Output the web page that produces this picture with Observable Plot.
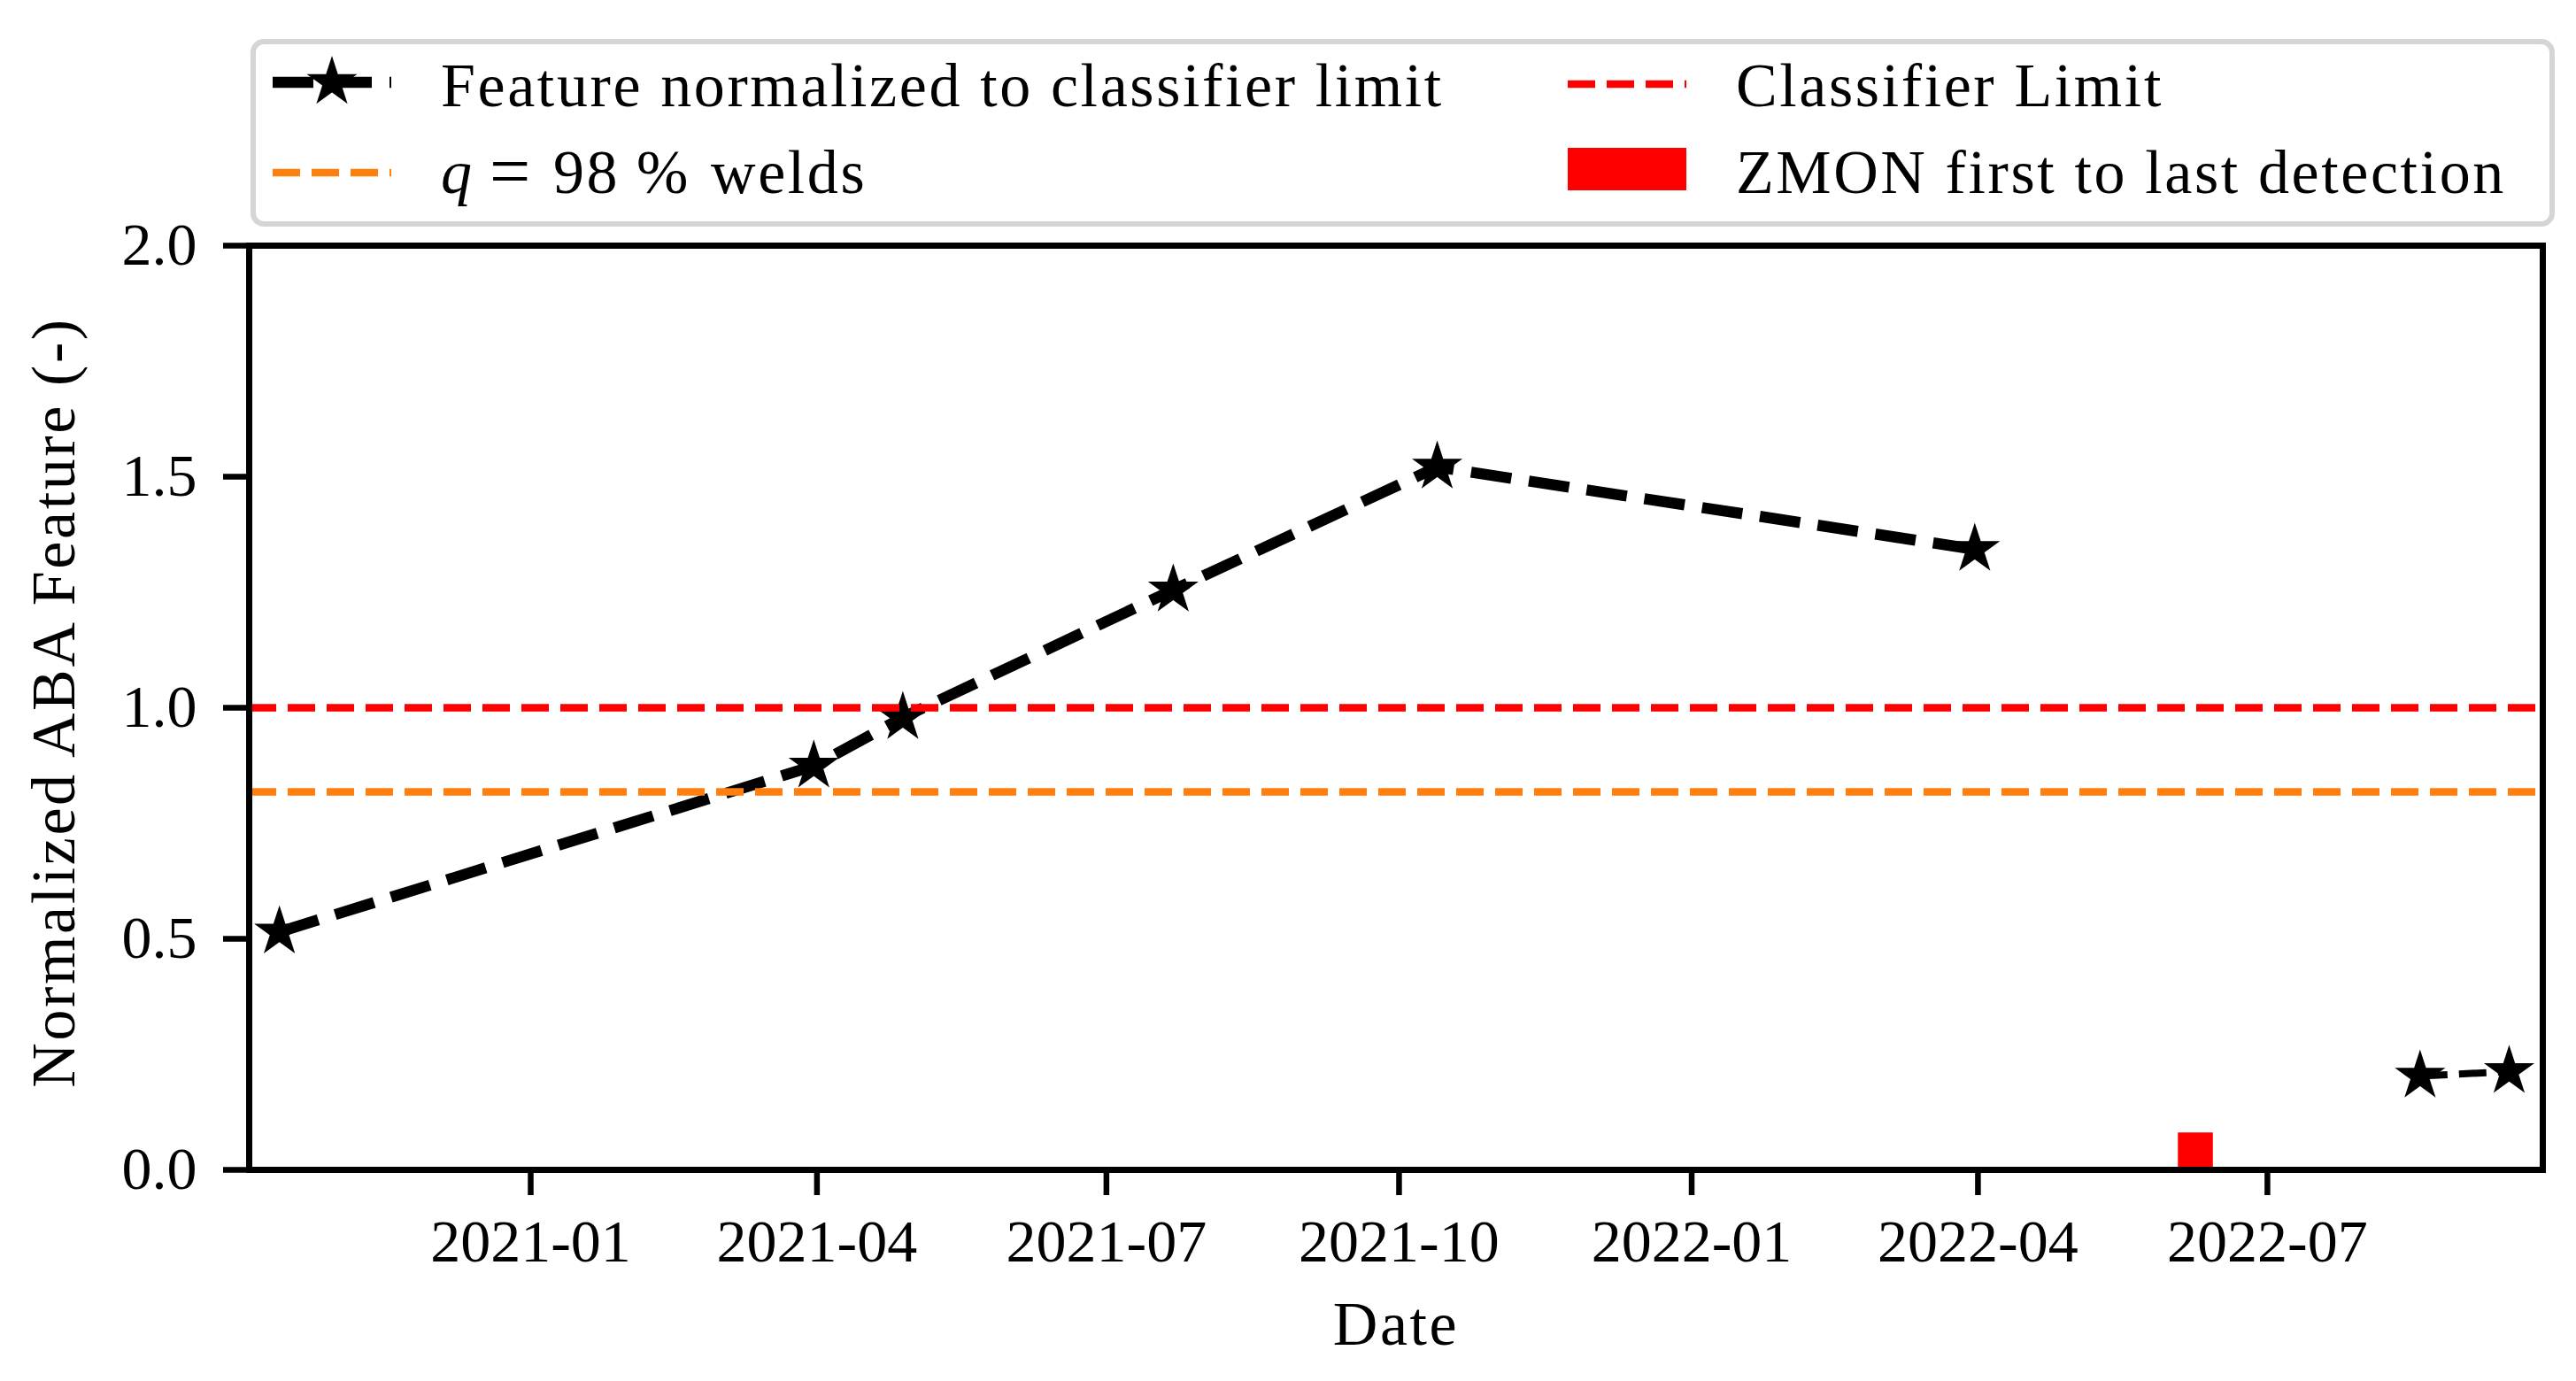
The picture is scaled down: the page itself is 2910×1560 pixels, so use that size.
<!DOCTYPE html>
<html><head><meta charset="utf-8">
<script src="https://cdn.jsdelivr.net/npm/d3@7"></script>
<script src="https://cdn.jsdelivr.net/npm/@observablehq/plot@0.6"></script>
<style>
html,body{margin:0;padding:0;background:#fff;width:2910px;height:1560px;overflow:hidden;}
#chart svg{display:block;}
</style></head><body>
<div id="chart"></div>
<script>
// ---- data ----
const dates = ["2020-10-14","2021-03-31","2021-04-28","2021-07-22","2021-10-13","2022-03-31","2022-08-18","2022-09-15"];
const values = [0.515, 0.874, 0.979, 1.255, 1.521, 1.343, 0.203, 0.213];
const segments = [1, 1, 1, 1, 1, 1, 2, 2];
const classifierLimit = 1.0;
const q98 = 0.818;
const zmonStart = "2022-06-03";
const zmonEnd = "2022-06-14";
const zmonHeight = 0.08;
const xTickLabels = ["2021-01","2021-04","2021-07","2021-10","2022-01","2022-04","2022-07"];
const yTicks = [0, 0.5, 1, 1.5, 2];
const xDomain = ["2020-10-04T12:00Z", "2022-09-25T14:00Z"];
const legendLabels = ["Feature normalized to classifier limit", "Classifier Limit", "q = 98 % welds", "ZMON first to last detection"];

const FONT = "'Liberation Serif', 'DejaVu Serif', serif";
const FS = 68;      // tick labels
const TFS = 70;     // legend and axis titles
const LS = "2.6px"; // letter spacing to mimic Computer Modern width
const starR = 16;

const data = dates.map((d, i) => ({date: new Date(d + "T00:00Z"), value: values[i], seg: segments[i]}));
const zmon = [{start: new Date(zmonStart + "T00:00Z"), end: new Date(zmonEnd + "T00:00Z"), h: zmonHeight}];

// ---- legend (above the plot) ----
const leg = d3.create("svg").attr("width", 2910).attr("height", 260)
  .style("display", "block").style("font-family", FONT).style("font-size", TFS + "px")
  .style("letter-spacing", LS);
leg.append("rect").attr("x", 286).attr("y", 47).attr("width", 2597).attr("height", 206)
  .attr("rx", 12).attr("fill", "white").attr("stroke", "#d5d5d5").attr("stroke-width", 6);
// row 1 left: black dashed with star
leg.append("line").attr("x1", 308).attr("x2", 442).attr("y1", 93).attr("y2", 93)
  .attr("stroke", "black").attr("stroke-width", 12.5).attr("stroke-dasharray", "46,20");
leg.append("path").attr("d", d3.symbol(d3.symbolStar, Math.PI * starR * starR)())
  .attr("transform", "translate(375,93)").attr("fill", "black").attr("stroke", "black").attr("stroke-width", 2);
leg.append("text").attr("x", 498).attr("y", 120).text(legendLabels[0]);
// row 1 right: red dashed
leg.append("line").attr("x1", 1771).attr("x2", 1905).attr("y1", 95).attr("y2", 95)
  .attr("stroke", "#ff0000").attr("stroke-width", 8.5).attr("stroke-dasharray", "31,13");
leg.append("text").attr("x", 1961).attr("y", 120).text(legendLabels[1]);
// row 2 left: orange dashed
leg.append("line").attr("x1", 308).attr("x2", 442).attr("y1", 195).attr("y2", 195)
  .attr("stroke", "#ff7f0e").attr("stroke-width", 8.5).attr("stroke-dasharray", "31,13");
const t2 = leg.append("text").attr("y", 218);
const parts = legendLabels[2].split(" ");
const partX = [498, 553, 625, 719, 803];
parts.forEach((p, i) => {
  const ts = t2.append("tspan").attr("x", partX[i]).text(p);
  if (i === 0) ts.attr("font-style", "italic");
  if (i === 1) ts.attr("font-size", 82).attr("dy", 3);
  if (i === 2) ts.attr("dy", -3);
});
// row 2 right: red patch
leg.append("rect").attr("x", 1771).attr("y", 167).attr("width", 134).attr("height", 48).attr("fill", "#ff0000");
leg.append("text").attr("x", 1961).attr("y", 218).text(legendLabels[3]);

// ---- plot ----
const plot = Plot.plot({
  width: 2910,
  height: 1300,
  marginTop: 17,
  marginBottom: 239,
  marginLeft: 281,
  marginRight: 38,
  style: {fontFamily: FONT, fontSize: FS + "px", background: "white", color: "black", overflow: "visible"},
  x: {type: "utc", domain: xDomain.map(d => new Date(d))},
  y: {domain: [0, 2]},
  marks: [
    Plot.rect(zmon, {x1: "start", x2: "end", y1: 0, y2: "h", fill: "#ff0000"}),
    Plot.line(data, {filter: d => d.seg === 1, x: "date", y: "value", stroke: "black", strokeWidth: 12.5,
      strokeDasharray: "46,20", strokeLinecap: "butt", strokeLinejoin: "round"}),
    Plot.line(data, {filter: d => d.seg === 2, x: "date", y: "value", stroke: "black", strokeWidth: 8,
      strokeDasharray: "31,13", strokeLinecap: "butt", strokeLinejoin: "round"}),
    Plot.dot(data, {x: "date", y: "value", symbol: "star", r: starR, fill: "black", stroke: "black", strokeWidth: 2}),
    Plot.ruleY([q98], {stroke: "#ff7f0e", strokeWidth: 8.5, strokeDasharray: "31,13"}),
    Plot.ruleY([classifierLimit], {stroke: "#ff0000", strokeWidth: 8.5, strokeDasharray: "31,13"}),
    Plot.axisX({ticks: xTickLabels.map(s => new Date(s + "-01T00:00Z")), tickFormat: d3.utcFormat("%Y-%m"),
      tickSize: 29, tickPadding: 26, strokeWidth: 6.5, label: null, fontSize: FS}),
    Plot.axisY({ticks: yTicks, tickFormat: d3.format(".1f"), tickSize: 29, tickPadding: 30,
      strokeWidth: 6.5, label: null, fontSize: FS}),
    Plot.text(["Date"], {frameAnchor: "bottom", dy: 197, lineAnchor: "bottom", textAnchor: "middle",
      text: d => d, fontSize: TFS}),
    Plot.text(["Normalized ABA Feature (-)"], {frameAnchor: "left", dx: -198, dy: -6, rotate: -90,
      lineAnchor: "bottom", textAnchor: "middle", text: d => d, fontSize: TFS}),
    Plot.frame({stroke: "black", strokeWidth: 7})
  ]
});
plot.querySelectorAll("text").forEach(t => {
  if (t.textContent === "Date" || t.textContent.startsWith("Normalized")) t.style.letterSpacing = LS;
});

const chart = document.getElementById("chart");
chart.appendChild(leg.node());
chart.appendChild(plot);
</script>
</body></html>
